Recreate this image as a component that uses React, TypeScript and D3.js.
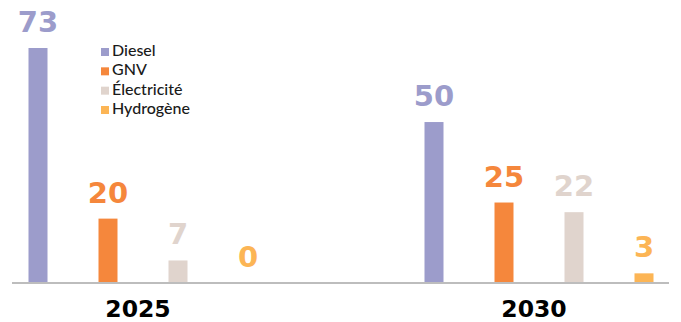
import React from "react";
import * as d3 from "d3";

const categories = ["2025", "2030"];
const series = ["Diesel", "GNV", "Électricité", "Hydrogène"];
const seriesColors = ["#9c9ccb", "#f5873c", "#e0d4cd", "#fcb555"];
const values2025 = [73, 20, 7, 0];
const values2030 = [50, 25, 22, 3];
const valuesByCategory = [values2025, values2030];

const W = 681;
const H = 322;
const baseY = 283;
const barW = 19;

export default function App() {
  const y = d3.scaleLinear().domain([0, 73]).range([baseY, 48]);
  const x0 = d3.scalePoint<string>().domain(categories).range([143, 539]);
  const x1 = d3.scalePoint<string>().domain(series).range([-105, 105]);
  const legendY = d3.scalePoint<string>().domain(series).range([56, 114]);

  return (
    <svg
      width={W}
      height={H}
      style={{ position: "absolute", left: 0, top: 0, background: "#fff" }}
    >
      {categories.map((cat, ci) =>
        series.map((s, si) => {
          const v = valuesByCategory[ci][si];
          const cx = (x0(cat) as number) + (x1(s) as number);
          return (
            <g key={cat + s}>
              {v > 0 && (
                <rect
                  x={cx - barW / 2}
                  y={y(v)}
                  width={barW}
                  height={baseY - y(v)}
                  fill={seriesColors[si]}
                />
              )}
              <text
                x={cx}
                y={y(v) - 16}
                textAnchor="middle"
                fontFamily="'DejaVu Sans', sans-serif"
                fontWeight={700}
                fontSize={29}
                fill={seriesColors[si]}
              >
                {v}
              </text>
            </g>
          );
        })
      )}
      <line x1={12} x2={669} y1={baseY} y2={baseY} stroke="#bdbdbd" strokeWidth={2} />
      {categories.map((cat) => (
        <text
          key={cat}
          x={(x0(cat) as number) - 5}
          y={317}
          textAnchor="middle"
          fontFamily="'DejaVu Sans', sans-serif"
          fontWeight={700}
          fontSize={23.5}
          fill="#000"
        >
          {cat}
        </text>
      ))}
      {series.map((s, si) => (
        <g key={s}>
          <rect x={101} y={(legendY(s) as number) - 8} width={8} height={8} fill={seriesColors[si]} />
          <text
            x={112}
            y={legendY(s) as number}
            fontFamily="Lato, sans-serif"
            fontWeight={500}
            fontSize={16}
            fill="#1a1a1a"
          >
            {s}
          </text>
        </g>
      ))}
    </svg>
  );
}
